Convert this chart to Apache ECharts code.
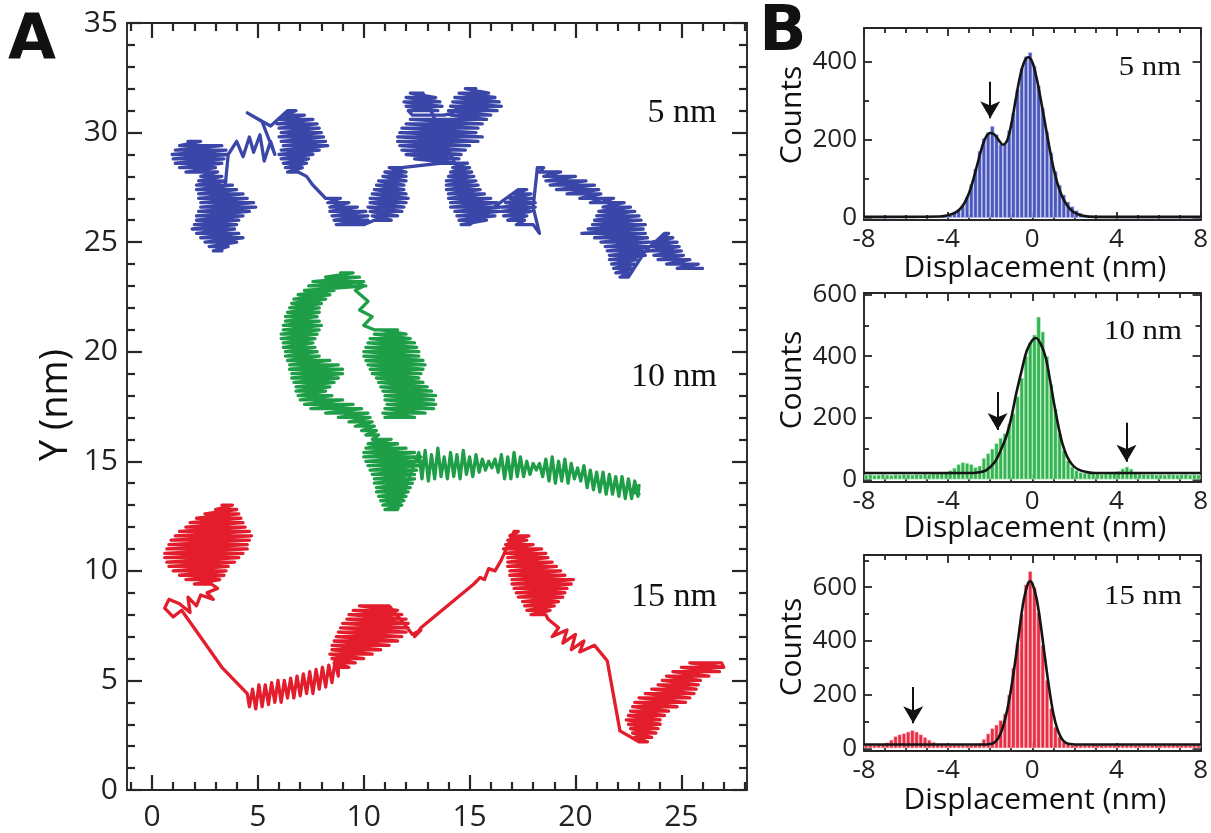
<!DOCTYPE html>
<html><head><meta charset="utf-8">
<script src="https://cdn.jsdelivr.net/npm/echarts@6/dist/echarts.min.js"></script>
<style>html,body{margin:0;padding:0;background:#fff}#c{width:1211px;height:833px}</style>
</head><body><div id="c"></div>
<script>
// ---------------- Panel A: trajectories (nm) ----------------
const BLUE_TRACK = [
[1.7,29.6],[2.3,29.6],[1.3,29.4],[3.3,29.4],[1.1,29.2],[3.5,29.2],[0.95,29.0],[3.6,29.0],[1.0,28.8],[3.4,28.8],[1.1,28.6],[3.3,28.6],[1.3,28.4],[3.0,28.4],[1.6,28.2],[3.1,28.2],
[2.3,28.0],[3.3,28.0],[2.2,27.8],[3.5,27.8],[2.1,27.6],[3.8,27.6],[2.1,27.4],[4.0,27.4],[2.2,27.2],[4.3,27.2],[2.2,27.0],[4.5,27.0],[2.3,26.8],[4.8,26.8],[2.3,26.6],[4.9,26.6],[2.2,26.4],[4.6,26.4],[2.1,26.2],[4.3,26.2],[2.1,26.0],[4.1,26.0],[2.0,25.8],[4.0,25.8],[1.9,25.6],[3.9,25.6],[2.1,25.4],[4.1,25.4],[2.3,25.2],[4.3,25.2],[2.5,25.0],[4.0,25.0],[2.7,24.8],[3.6,24.8],[2.9,24.6],[3.3,24.6],
[3.4,27.0],[3.6,29.0],[4.0,29.6],[4.3,28.9],[4.6,29.8],[4.8,29.1],[5.1,29.9],[5.3,28.7],[5.6,29.6],[5.8,29.0],[5.2,30.5],[4.5,30.9],[5.6,30.3],
[6.4,31.0],[6.8,31.0],[6.2,30.8],[7.2,30.8],[6.0,30.6],[7.6,30.6],[5.9,30.4],[7.8,30.4],[6.0,30.2],[7.9,30.2],[6.1,30.0],[8.0,30.0],[6.0,29.8],[8.1,29.8],[6.1,29.6],[8.2,29.6],[6.2,29.4],[8.3,29.4],[6.1,29.2],[7.9,29.2],[6.0,29.0],[7.6,29.0],[6.1,28.8],[7.4,28.8],[6.2,28.6],[7.3,28.6],[6.3,28.4],[7.1,28.4],[6.4,28.2],[6.9,28.2],
[7.3,28.0],[7.6,27.6],[7.9,27.3],[8.2,27.0],
[8.4,27.0],[8.9,27.0],[8.3,26.8],[9.3,26.8],[8.4,26.6],[9.7,26.6],[8.4,26.4],[10.1,26.4],[8.5,26.2],[10.2,26.2],[8.6,26.0],[10.2,26.0],[8.7,25.8],[10.0,25.8],
[10.5,26.0],[11.3,26.0],[10.4,26.2],[11.6,26.2],[10.3,26.4],[11.8,26.4],[10.2,26.6],[11.9,26.6],[10.3,26.8],[12.0,26.8],[10.3,27.0],[12.1,27.0],[10.4,27.2],[12.0,27.2],[10.5,27.4],[11.9,27.4],[10.6,27.6],[11.9,27.6],[10.7,27.8],[12.0,27.8],[10.9,28.0],[12.0,28.0],[11.0,28.2],[12.0,28.2],[11.2,28.4],[11.8,28.4],
[13.6,28.6],[14.4,28.6],[12.4,28.8],[14.5,28.8],[12.0,29.0],[14.6,29.0],[11.8,29.2],[14.8,29.2],[11.7,29.4],[15.0,29.4],[11.6,29.6],[15.4,29.6],[11.6,29.8],[15.6,29.8],[11.7,30.0],[15.3,30.0],[11.8,30.2],[15.4,30.2],[12.0,30.4],[15.6,30.4],[12.2,30.6],[15.8,30.6],
[14.1,30.8],[16.0,30.8],[14.0,31.0],[16.3,31.0],[14.1,31.2],[16.5,31.2],[14.2,31.4],[16.4,31.4],[14.3,31.6],[16.2,31.6],[14.5,31.8],[15.9,31.8],[14.8,32.0],[15.3,32.0],[14.2,30.9],
[13.8,30.8],[12.3,30.8],[12.1,31.0],[13.5,31.0],[12.0,31.2],[13.7,31.2],[11.9,31.4],[13.6,31.4],[12.0,31.6],[13.4,31.6],[12.2,31.8],[12.8,31.8],
[14.3,28.6],[14.9,28.6],[14.2,28.4],[15.0,28.4],[14.1,28.2],[15.1,28.2],[14.0,28.0],[15.2,28.0],[13.9,27.8],[15.3,27.8],[13.9,27.6],[15.4,27.6],[13.9,27.4],[15.5,27.4],[14.0,27.2],[15.7,27.2],[14.0,27.0],[16.0,27.0],[14.1,26.8],[16.3,26.8],[14.1,26.6],[16.5,26.6],[14.3,26.4],[16.4,26.4],[14.4,26.2],[16.2,26.2],[14.5,26.0],[15.8,26.0],[14.6,25.8],[15.0,25.8],
[17.3,27.4],[17.7,27.4],[17.1,27.2],[17.9,27.2],[16.9,27.0],[18.0,27.0],[16.7,26.8],[18.1,26.8],[16.5,26.6],[18.1,26.6],[16.5,26.4],[17.9,26.4],[16.6,26.2],[17.7,26.2],[16.8,26.0],[17.6,26.0],[17.2,25.8],[18.0,25.8],[18.3,25.4],[18.0,26.6],
[18.2,28.4],[18.5,28.4],[18.3,28.2],[19.3,28.2],[18.5,28.0],[20.0,28.0],[18.6,27.8],[20.5,27.8],[18.8,27.6],[20.9,27.6],[19.1,27.4],[21.1,27.4],[19.6,27.2],[21.2,27.2],[20.2,27.0],[21.3,27.0],[20.7,26.8],[21.4,26.8],
[21.3,27.0],[21.8,27.0],[21.2,26.8],[22.3,26.8],[21.3,26.6],[22.6,26.6],[21.1,26.4],[22.8,26.4],[21.0,26.2],[23.0,26.2],[20.9,26.0],[23.1,26.0],[20.8,25.8],[23.3,25.8],[20.6,25.6],[23.2,25.6],[20.3,25.4],[23.3,25.4],[20.9,25.2],[23.4,25.2],[21.2,25.0],[23.5,25.0],[21.4,24.8],[23.6,24.8],[21.5,24.6],[23.5,24.6],[21.6,24.4],[23.3,24.4],[21.6,24.2],[22.9,24.2],[21.7,24.0],[22.8,24.0],[21.8,23.8],[22.7,23.8],[21.9,23.6],[22.6,23.6],[22.1,23.4],[22.5,23.4],
[23.3,24.6],[24.2,25.4],[24.4,25.4],[24.1,25.2],[24.6,25.2],[23.6,25.0],[24.8,25.0],[23.4,24.8],[24.9,24.8],[23.5,24.6],[25.0,24.6],[23.7,24.4],[25.1,24.4],[23.9,24.2],[25.4,24.2],[24.3,24.0],[25.8,24.0],[24.8,23.8],[26.0,23.8]
];
const GREEN_TRACK = [
[11.0,17.0],[12.4,17.0],[10.9,17.2],[12.9,17.2],[11.0,17.4],[13.3,17.4],[11.1,17.6],[13.4,17.6],[11.0,17.8],[13.3,17.8],[11.0,18.0],[13.4,18.0],[10.9,18.2],[13.2,18.2],[10.8,18.4],[13.0,18.4],[10.7,18.6],[12.8,18.6],[10.6,18.8],[12.6,18.8],[10.4,19.0],[12.7,19.0],[10.3,19.2],[12.8,19.2],[10.2,19.4],[12.9,19.4],[10.1,19.6],[12.8,19.6],[10.0,19.8],[12.6,19.8],[10.0,20.0],[12.6,20.0],[10.1,20.2],[12.5,20.2],[10.2,20.4],[12.4,20.4],[10.3,20.6],[12.2,20.6],[10.5,20.8],[12.0,20.8],[10.8,21.0],[11.6,21.0],
[10.5,21.0],[10.0,21.2],[10.4,21.6],[9.8,21.9],[10.2,22.3],[9.6,22.8],[10.0,23.0],
[8.9,23.6],[9.5,23.6],[8.2,23.4],[9.8,23.4],[7.6,23.2],[10.0,23.2],[7.4,23.0],[10.1,23.0],[7.2,22.8],[8.6,22.8],
[6.9,22.6],[8.4,22.6],[6.7,22.4],[8.2,22.4],[6.6,22.2],[8.0,22.2],[6.5,22.0],[7.9,22.0],[6.4,21.8],[7.9,21.8],[6.3,21.6],[7.8,21.6],[6.3,21.4],[7.9,21.4],[6.2,21.2],[8.0,21.2],[6.2,21.0],[7.9,21.0],[6.1,20.8],[7.8,20.8],[6.1,20.6],[7.7,20.6],[6.2,20.4],[7.6,20.4],[6.2,20.2],[7.7,20.2],[6.3,20.0],[7.8,20.0],[6.3,19.8],[7.9,19.8],[6.4,19.6],[8.4,19.6],[6.5,19.4],[8.8,19.4],[6.5,19.2],[9.0,19.2],[6.6,19.0],[9.0,19.0],[6.6,18.8],[8.8,18.8],[6.7,18.6],[8.6,18.6],[6.8,18.4],[8.4,18.4],[6.8,18.2],[8.2,18.2],[6.9,18.0],[8.5,18.0],[7.0,17.8],[9.0,17.8],[7.2,17.6],[9.5,17.6],[7.5,17.4],[9.9,17.4],[8.2,17.2],[10.2,17.2],[8.8,17.0],[10.3,17.0],[9.3,16.8],[10.4,16.8],[9.6,16.6],[10.5,16.6],[9.9,16.4],[10.6,16.4],[10.1,16.2],[10.7,16.2],
[10.4,16.0],[11.3,16.0],[10.2,15.8],[11.6,15.8],[10.1,15.6],[12.0,15.6],[10.0,15.4],[12.4,15.4],[10.0,15.2],[12.7,15.2],[10.1,15.0],[12.8,15.0],[10.2,14.8],[12.6,14.8],[10.3,14.6],[12.5,14.6],[10.4,14.4],[12.4,14.4],[10.5,14.2],[12.4,14.2],[10.5,14.0],[12.3,14.0],[10.6,13.8],[12.2,13.8],[10.6,13.6],[12.1,13.6],[10.7,13.4],[12.0,13.4],[10.8,13.2],[11.9,13.2],[10.9,13.0],[11.8,13.0],[11.0,12.8],[11.6,12.8],
[12.6,15.4],[12.75,14.2],[12.9,15.5],[13.05,14.1],[13.2,15.3],[13.35,14.2],[13.5,15.6],[13.65,14.3],[13.8,15.2],[13.95,14.2],[14.1,15.4],[14.25,14.3],[14.4,15.3],[14.55,14.2],[14.7,15.5],[14.85,14.4],[15.0,15.2],[15.15,14.3],[15.3,15.3],[15.45,14.5],[15.6,15.1],[15.75,14.6],[15.9,15.0],[16.05,14.7],[16.2,15.1],[16.35,14.5],[16.5,15.3],[16.65,14.2],[16.8,15.2],[16.95,14.2],[17.1,15.4],[17.25,14.3],[17.4,15.2],[17.55,14.3],[17.7,15.0],[17.85,14.4],[18.0,14.9],[18.15,14.6],[18.3,14.9],[18.45,14.3],[18.6,15.1],[18.75,14.1],[18.9,15.2],[19.05,14.0],[19.2,15.0],[19.35,14.1],[19.5,15.1],[19.65,14.0],[19.8,14.9],[19.95,14.2],[20.1,14.7],[20.25,14.1],[20.4,14.8],[20.55,13.8],[20.7,14.6],[20.85,13.7],[21.0,14.5],[21.15,13.6],[21.3,14.5],[21.45,13.5],[21.6,14.4],[21.75,13.5],[21.9,14.3],[22.05,13.4],[22.2,14.3],[22.35,13.3],[22.5,14.2],[22.65,13.3],[22.8,14.1],[22.95,13.4],[23.0,13.9],[22.7,13.6],[23.0,13.5]
];
const RED_TRACK = [
[3.3,13.0],[3.8,13.0],[3.0,12.8],[4.0,12.8],[2.5,12.6],[4.1,12.6],[2.1,12.4],[4.2,12.4],[1.8,12.2],[4.3,12.2],[1.6,12.0],[4.4,12.0],[1.3,11.8],[4.6,11.8],[1.1,11.6],[4.7,11.6],[0.9,11.4],[4.6,11.4],[0.8,11.2],[4.5,11.2],[0.7,11.0],[4.5,11.0],[0.6,10.8],[4.3,10.8],[0.6,10.6],[4.1,10.6],[0.7,10.4],[3.9,10.4],[0.8,10.2],[3.6,10.2],[1.0,10.0],[3.5,10.0],[1.3,9.8],[3.4,9.8],[1.6,9.6],[3.2,9.6],[2.0,9.4],[2.8,9.4],
[3.1,9.2],[2.6,9.0],[2.9,8.7],[2.3,8.9],[2.1,8.4],[1.7,8.8],[1.8,8.1],[1.3,8.5],[0.8,8.7],[0.6,8.3],[1.0,7.9],[1.4,8.2],
[3.3,5.6],[4.5,4.4],
[4.6,3.8],[4.75,4.6],[4.9,3.7],[5.05,4.8],[5.2,3.8],[5.35,4.8],[5.5,3.9],[5.65,4.9],[5.8,4.0],[5.95,5.0],[6.1,4.0],[6.25,5.0],[6.4,4.2],[6.55,5.1],[6.7,4.2],[6.85,5.2],[7.0,4.3],[7.15,5.3],[7.3,4.4],[7.45,5.4],[7.6,4.4],[7.75,5.5],[7.9,4.6],[8.05,5.6],[8.2,4.7],[8.35,5.7],[8.5,4.9],[8.65,5.9],[8.8,5.2],
[8.8,5.6],[9.3,5.6],[8.6,5.8],[9.6,5.8],[8.5,6.0],[10.0,6.0],[8.4,6.2],[10.4,6.2],[8.5,6.4],[10.8,6.4],[8.5,6.6],[11.2,6.6],[8.6,6.8],[11.6,6.8],[8.7,7.0],[11.8,7.0],[8.8,7.2],[12.0,7.2],[8.9,7.4],[12.1,7.4],[9.0,7.6],[12.1,7.6],[9.2,7.8],[12.0,7.8],[9.3,8.0],[11.8,8.0],[9.5,8.2],[11.6,8.2],[9.8,8.4],[11.2,8.4],
[11.9,7.6],[12.3,7.1],[12.7,7.3],[12.4,7.0],[12.7,7.4],
[15.2,9.4],[15.5,9.7],[15.7,9.6],[15.9,10.1],[16.2,10.0],[16.5,10.5],
[17.1,11.8],[17.3,11.8],[16.9,11.6],[17.8,11.6],[16.8,11.4],[17.7,11.4],[16.7,11.2],[18.0,11.2],[16.6,11.0],[18.4,11.0],[16.7,10.8],[18.6,10.8],[16.8,10.6],[18.7,10.6],[16.8,10.4],[18.9,10.4],[16.8,10.2],[19.1,10.2],[16.9,10.0],[19.3,10.0],[16.9,9.8],[19.5,9.8],[17.0,9.6],[19.9,9.6],[17.0,9.4],[19.8,9.4],[17.1,9.2],[19.6,9.2],[17.2,9.0],[19.5,9.0],[17.3,8.8],[19.4,8.8],[17.5,8.6],[19.2,8.6],[17.6,8.4],[19.0,8.4],[17.7,8.2],[18.8,8.2],[17.9,8.0],[18.6,8.0],
[18.7,7.8],[19.2,7.4],[18.9,7.0],[19.6,7.3],[19.4,6.7],[20.0,7.1],[19.8,6.4],[20.4,6.8],[20.2,6.3],[20.9,6.6],
[21.5,5.9],[22.1,2.7],
[23.0,2.2],[23.4,2.2],[22.8,2.4],[23.6,2.4],[22.7,2.6],[23.8,2.6],[22.6,2.8],[23.9,2.8],[22.5,3.0],[24.0,3.0],[22.4,3.2],[24.0,3.2],[22.5,3.4],[24.2,3.4],[22.6,3.6],[24.4,3.6],[22.7,3.8],[24.8,3.8],[22.8,4.0],[25.2,4.0],[23.0,4.2],[25.4,4.2],[23.3,4.4],[25.6,4.4],[23.6,4.6],[25.7,4.6],[23.9,4.8],[25.8,4.8],[24.1,5.0],[25.9,5.0],[24.3,5.2],[26.3,5.2],[24.6,5.4],[26.8,5.4],[25.0,5.6],[27.0,5.6],[25.4,5.8],[26.9,5.8],[27.0,5.6]
];
const TRACK_NAMES = ['5 nm','10 nm','15 nm'];

// axis tick values for panel A
const A_X_MAJOR = [0,5,10,15,20,25];
const A_X_MINOR = [-1,1,2,3,4,6,7,8,9,11,12,13,14,16,17,18,19,21,22,23,24,26,27,28];
const A_Y_MAJOR = [0,5,10,15,20,25,30,35];
const A_Y_MINOR = [1,2,3,4,6,7,8,9,11,12,13,14,16,17,18,19,21,22,23,24,26,27,28,29,31,32,33,34];

// ---------------- Panel B: histograms ----------------
const BIN_CENTERS = [
-7.9,-7.7,-7.5,-7.3,-7.1,-6.9,-6.7,-6.5,-6.3,-6.1,
-5.9,-5.7,-5.5,-5.3,-5.1,-4.9,-4.7,-4.5,-4.3,-4.1,
-3.9,-3.7,-3.5,-3.3,-3.1,-2.9,-2.7,-2.5,-2.3,-2.1,
-1.9,-1.7,-1.5,-1.3,-1.1,-0.9,-0.7,-0.5,-0.3,-0.1,
0.1,0.3,0.5,0.7,0.9,1.1,1.3,1.5,1.7,1.9,
2.1,2.3,2.5,2.7,2.9,3.1,3.3,3.5,3.7,3.9,
4.1,4.3,4.5,4.7,4.9,5.1,5.3,5.5,5.7,5.9,
6.1,6.3,6.5,6.7,6.9,7.1,7.3,7.5,7.7,7.9];
const COUNTS_5NM = [
0,0,0,0,0,0,0,0,0,1,
1,0,1,2,2,1,3,2,4,6,
8,13,20,33,55,87,127,172,205,220,
236,215,190,192,225,270,330,385,415,425,
390,340,282,222,168,120,85,60,42,30,
20,13,8,5,3,2,1,1,0,0,
0,0,0,0,0,0,0,0,0,0,
0,0,0,0,0,0,0,0,0,0];
const COUNTS_10NM = [
16,17,15,16,18,16,15,17,16,18,
17,16,18,17,19,18,20,19,22,25,
30,38,50,56,54,50,40,45,70,85,
100,118,135,150,180,215,270,330,400,445,
470,528,480,400,310,230,150,95,62,42,
30,24,22,20,19,20,18,19,20,21,
28,36,42,35,25,19,18,17,18,16,
17,16,18,17,16,17,18,16,17,16];
const COUNTS_15NM = [
12,13,12,14,15,22,32,45,52,56,
62,68,62,52,42,32,24,18,14,13,
12,13,12,13,12,13,14,20,35,55,
75,88,105,130,200,300,390,500,610,660,
600,505,385,255,150,80,45,25,16,13,
13,12,13,12,14,12,13,12,13,12,
12,13,12,13,12,13,12,14,12,13,
12,13,12,13,12,12,13,12,13,12];
const FIT_5NM = [[-8,3],[-4.4,4],[-4.0,7],[-3.6,16],[-3.3,32],[-3.0,65],[-2.8,100],[-2.6,140],[-2.4,180],[-2.2,208],[-2.0,218],[-1.8,214],[-1.6,200],[-1.4,188],[-1.2,198],[-1.0,240],[-0.8,300],[-0.6,358],[-0.4,398],[-0.2,412],[0.0,400],[0.2,360],[0.4,305],[0.6,245],[0.8,185],[1.0,130],[1.2,88],[1.4,58],[1.6,37],[1.8,23],[2.0,14],[2.4,6],[3.0,3],[8,3]];
const FIT_10NM = [[-8,21],[-3.0,21],[-2.6,23],[-2.2,30],[-1.8,55],[-1.5,95],[-1.24,139],[-1.0,200],[-0.77,277],[-0.5,355],[-0.25,420],[0.0,452],[0.17,459],[0.4,440],[0.64,395],[0.85,320],[1.04,245],[1.25,170],[1.43,117],[1.65,75],[1.9,48],[2.2,32],[2.6,24],[3.0,21],[8,21]];
const FIT_15NM = [[-8,14],[-2.4,14],[-2.0,16],[-1.8,22],[-1.6,40],[-1.4,78],[-1.2,140],[-1.0,225],[-0.8,330],[-0.6,450],[-0.4,555],[-0.2,615],[-0.1,622],[0.0,615],[0.2,560],[0.4,460],[0.6,340],[0.8,225],[1.0,130],[1.2,70],[1.4,36],[1.6,20],[1.8,16],[2.2,14],[8,14]];
// arrows: [x, top count, tip count]
const ARROWS_5NM = [[-2.0,349,256]];
const ARROWS_10NM = [[-1.65,284,161],[4.48,184,58]];
const ARROWS_15NM = [[-5.66,228,93]];

const B_X_MAJOR = [-8,-4,0,4,8];
const B_X_MINOR = [-7,-6,-5,-3,-2,-1,1,2,3,5,6,7];
const B1_Y_MAJOR = [0,200,400], B1_Y_MINOR = [100,300];
const B2_Y_MAJOR = [0,200,400,600], B2_Y_MINOR = [100,300,500];
const B3_Y_MAJOR = [0,200,400,600], B3_Y_MINOR = [100,300,500,700];

// ---------------- build ----------------
const SANS = "'Open Sans', 'Noto Sans', sans-serif";
const SERIF = "'Liberation Serif', 'DejaVu Serif', serif";
const AX = '#262626';
const xAxes = [], yAxes = [];
function addAxes(list, dim, grid, min, max, major, minor, lenMaj, lenMin, tw, lab) {
  const start = list.length;
  const pos = dim === 'x' ? ['bottom','top'] : ['left','right'];
  pos.forEach((p, k) => {
    list.push({type:'value', gridIndex:grid, position:p, min:min, max:max, splitLine:{show:false},
      axisLine:{show:true, onZero:false, lineStyle:{color:AX, width:1.9}},
      axisTick:{show:true, inside:true, length:lenMaj, customValues:major, lineStyle:{color:AX, width:tw}},
      axisLabel: k === 0 ? Object.assign({show:true, customValues:major}, lab) : {show:false}});
    list.push({type:'value', gridIndex:grid, position:p, min:min, max:max, splitLine:{show:false},
      axisLine:{show:false, onZero:false},
      axisTick:{show:true, inside:true, length:lenMin, customValues:minor, lineStyle:{color:AX, width:tw}},
      axisLabel:{show:false}});
  });
  return start;
}
const labA = {fontFamily:SANS, fontSize:30, color:'#222'};
const labB = {fontFamily:SANS, fontSize:26, color:'#222'};

const grids = [
  {left:127, top:23, width:620, height:767},
  {left:864, top:28, width:339, height:192},
  {left:864, top:293, width:339, height:189},
  {left:864, top:555, width:339, height:196}
];
const axA = addAxes(xAxes,'x',0,-1.18,28.1,A_X_MAJOR,A_X_MINOR,15,8,2.2,Object.assign({margin:12},labA));
const ayA = addAxes(yAxes,'y',0,0,35,A_Y_MAJOR,A_Y_MINOR,15,8,2.2,Object.assign({margin:9},labA));
const bx = [], by = [];
const bY = [[-5,487,B1_Y_MAJOR,B1_Y_MINOR],[-8,605,B2_Y_MAJOR,B2_Y_MINOR],[-10,720,B3_Y_MAJOR,B3_Y_MINOR]];
for (let i = 0; i < 3; i++) {
  bx.push(addAxes(xAxes,'x',i+1,-8,8,B_X_MAJOR,B_X_MINOR,8,5,1.8,Object.assign({margin:7},labB)));
  by.push(addAxes(yAxes,'y',i+1,bY[i][0],bY[i][1],bY[i][2],bY[i][3],8,5,1.8,Object.assign({margin:7},labB)));
}

const series = [];
const trackColors = ['#3b47a8','#1f9e48','#e31d2c'];
[BLUE_TRACK, GREEN_TRACK, RED_TRACK].forEach((t, i) => {
  series.push({type:'line', name:TRACK_NAMES[i], xAxisIndex:axA, yAxisIndex:ayA, data:t, showSymbol:false, symbol:'none',
    smooth:false, silent:true, lineStyle:{color:trackColors[i], width:3.3, join:'round', cap:'round'}});
});
const hists = [
  {counts:COUNTS_5NM, fit:FIT_5NM, arrows:ARROWS_5NM, color:'#4a57bb', edge:'rgba(205,210,245,0.9)'},
  {counts:COUNTS_10NM, fit:FIT_10NM, arrows:ARROWS_10NM, color:'#33b451', edge:'rgba(200,240,205,0.9)'},
  {counts:COUNTS_15NM, fit:FIT_15NM, arrows:ARROWS_15NM, color:'#e92e44', edge:'rgba(250,205,210,0.9)'}
];
hists.forEach((h, i) => {
  series.push({type:'bar', xAxisIndex:bx[i], yAxisIndex:by[i], barWidth:4.3, silent:true,
    data:BIN_CENTERS.map((c, k) => [c, h.counts[k]]),
    itemStyle:{color:h.color, borderColor:h.edge, borderWidth:0.7}});
  series.push({type:'line', xAxisIndex:bx[i], yAxisIndex:by[i], data:h.fit, smooth:0.35, showSymbol:false, symbol:'none', silent:true,
    lineStyle:{color:'#151515', width:2.6}, z:5,
    markLine:{silent:true, symbol:['none','arrow'], symbolSize:[15,17], animation:false,
      lineStyle:{color:'#111', width:2, type:'solid'}, label:{show:false},
      data:h.arrows.map(a => [{coord:[a[0], a[1]]}, {coord:[a[0], a[2]]}])}});
});

function txt(x, y, text, font, rot, sx) {
  return {type:'text', x:x, y:y, rotation:rot || 0, scaleX:sx || 1, silent:true, z:100,
    style:{text:text, font:font, fill:'#111', x:0, y:0, textAlign:'center', textVerticalAlign:'middle', align:'center', verticalAlign:'middle'}};
}
const graphic = [
  txt(32, 42, 'A', "bold 62px 'DejaVu Sans', sans-serif"),
  txt(783, 34, 'B', "bold 62px 'DejaVu Sans', sans-serif"),
  txt(56, 405, 'Y (nm)', "38px " + SANS, Math.PI/2),
  txt(682, 113, '5 nm', "34px " + SERIF),
  txt(674, 377, '10 nm', "34px " + SERIF),
  txt(674, 597, '15 nm', "34px " + SERIF),
  txt(1150, 68, '5 nm', "28px " + SERIF, 0, 1.1),
  txt(1143, 332, '10 nm', "28px " + SERIF, 0, 1.1),
  txt(1143, 597, '15 nm', "28px " + SERIF, 0, 1.1),
  txt(792, 115, 'Counts', "30px " + SANS, Math.PI/2),
  txt(792, 380, 'Counts', "30px " + SANS, Math.PI/2),
  txt(792, 647, 'Counts', "30px " + SANS, Math.PI/2),
  txt(1035, 268, 'Displacement (nm)', "30px " + SANS),
  txt(1035, 528, 'Displacement (nm)', "30px " + SANS),
  txt(1035, 800, 'Displacement (nm)', "30px " + SANS)
];

const chart = echarts.init(document.getElementById('c'), null, {renderer:'canvas'});
chart.setOption({backgroundColor:'#fff', animation:false, grid:grids, xAxis:xAxes, yAxis:yAxes, series:series, graphic:graphic});
</script></body></html>
